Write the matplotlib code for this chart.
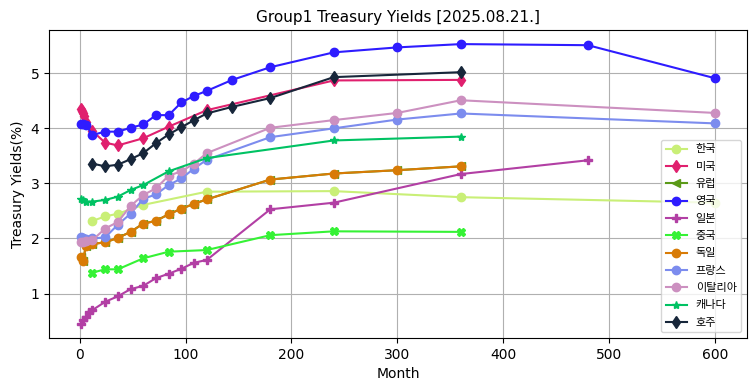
import matplotlib
matplotlib.use("Agg")
import matplotlib.pyplot as plt

plt.rcParams['font.family'] = ['DejaVu Sans', 'Noto Sans CJK KR']

# maturities in months and yields (%) per country
kr_m = [12, 24, 36, 60, 120, 240, 360, 600]
kr_y = [2.32, 2.40, 2.45, 2.61, 2.85, 2.86, 2.75, 2.65]

us_m = [1, 2, 3, 4, 6, 12, 24, 36, 60, 84, 120, 240, 360]
us_y = [4.36, 4.32, 4.27, 4.22, 4.12, 3.95, 3.74, 3.69, 3.82, 4.03, 4.33, 4.87, 4.88]

eu_m = [1, 3, 6, 12, 24, 36, 48, 60, 72, 84, 96, 108, 120, 180, 240, 300, 360]
eu_y = [1.66, 1.60, 1.87, 1.90, 1.93, 2.01, 2.12, 2.27, 2.32, 2.44, 2.54, 2.63, 2.71, 3.07, 3.18, 3.24, 3.31]

uk_m = [1, 3, 6, 12, 24, 36, 48, 60, 72, 84, 96, 108, 120, 144, 180, 240, 300, 360, 480, 600]
uk_y = [4.07, 4.08, 4.06, 3.88, 3.94, 3.94, 4.01, 4.07, 4.24, 4.24, 4.47, 4.59, 4.68, 4.88, 5.11, 5.38, 5.47, 5.53, 5.51, 4.91]

jp_m = [1, 3, 6, 9, 12, 24, 36, 48, 60, 72, 84, 96, 108, 120, 180, 240, 360, 480]
jp_y = [0.45, 0.52, 0.58, 0.66, 0.70, 0.85, 0.95, 1.08, 1.14, 1.28, 1.36, 1.45, 1.56, 1.61, 2.53, 2.65, 3.17, 3.42]

cn_m = [12, 24, 36, 60, 84, 120, 180, 240, 360]
cn_y = [1.38, 1.44, 1.44, 1.64, 1.76, 1.79, 2.06, 2.13, 2.12]

de_m = [1, 3, 6, 12, 24, 36, 48, 60, 72, 84, 96, 108, 120, 180, 240, 300, 360]
de_y = [1.66, 1.60, 1.87, 1.90, 1.93, 2.01, 2.12, 2.27, 2.32, 2.44, 2.54, 2.63, 2.71, 3.07, 3.18, 3.24, 3.31]

fr_m = [1, 3, 6, 12, 24, 36, 48, 60, 72, 84, 96, 108, 120, 180, 240, 300, 360, 600]
fr_y = [2.02, 2.00, 1.99, 2.00, 2.02, 2.25, 2.45, 2.72, 2.80, 2.97, 3.09, 3.27, 3.43, 3.84, 4.00, 4.16, 4.27, 4.09]

it_m = [1, 3, 6, 12, 24, 36, 48, 60, 72, 84, 96, 108, 120, 180, 240, 300, 360, 600]
it_y = [1.94, 1.93, 1.95, 1.97, 2.18, 2.30, 2.59, 2.79, 2.91, 3.14, 3.22, 3.36, 3.55, 4.01, 4.15, 4.28, 4.51, 4.28]

ca_m = [1, 3, 6, 12, 24, 36, 48, 60, 84, 120, 240, 360]
ca_y = [2.71, 2.69, 2.67, 2.67, 2.70, 2.76, 2.88, 2.97, 3.22, 3.46, 3.78, 3.85]

au_m = [12, 24, 36, 48, 60, 72, 84, 96, 108, 120, 144, 180, 240, 360]
au_y = [3.36, 3.31, 3.34, 3.44, 3.55, 3.73, 3.89, 4.02, 4.15, 4.27, 4.39, 4.55, 4.93, 5.02]

series = [
    ('한국', kr_m, kr_y, 'o', '#c9ef77'),
    ('미국', us_m, us_y, 'd', '#e0206e'),
    ('유럽', eu_m, eu_y, '<', '#5b9a18'),
    ('영국', uk_m, uk_y, 'o', '#2e1cff'),
    ('일본', jp_m, jp_y, 'P', '#b23fa4'),
    ('중국', cn_m, cn_y, 'X', '#35f235'),
    ('독일', de_m, de_y, 'o', '#d87b06'),
    ('프랑스', fr_m, fr_y, 'o', '#7c8cee'),
    ('이탈리아', it_m, it_y, 'o', '#cc90c0'),
    ('캐나다', ca_m, ca_y, '*', '#00c263'),
    ('호주', au_m, au_y, 'd', '#17263a'),
]

fig, ax = plt.subplots(figsize=(7.55, 3.91), dpi=100)
fig.subplots_adjust(left=0.065, right=0.989, bottom=0.136, top=0.923)

for name, m, y, mk, c in series:
    ax.plot(m, y, marker=mk, color=c, label=name, markersize=6, linewidth=1.5)

ax.set_title('Group1 Treasury Yields [2025.08.21.]', fontsize=11)
ax.set_xlabel('Month')
ax.set_ylabel('Treasury Yields(%)')
ax.grid(True)
ax.legend(loc='lower right', fontsize=8, labelspacing=0.66, handlelength=1.9)

fig.savefig('out.png', dpi=100)
